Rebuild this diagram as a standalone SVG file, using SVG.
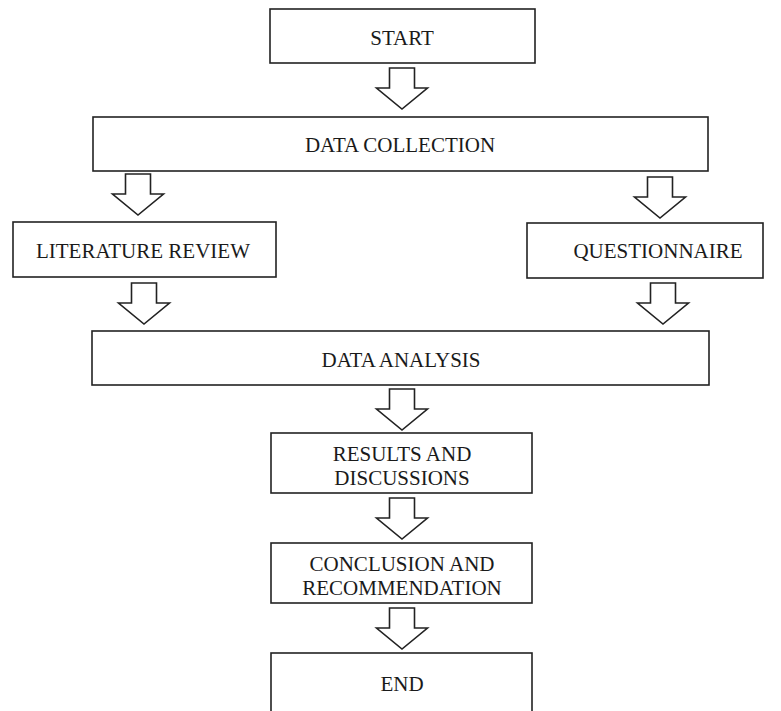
<svg xmlns="http://www.w3.org/2000/svg" xmlns:xlink="http://www.w3.org/1999/xlink" width="781" height="711" viewBox="0 0 781 711">
<style>
.box{fill:#fff;stroke:#222;stroke-width:1.6}
.arrow{fill:#fff;stroke:#222;stroke-width:1.6;stroke-linejoin:miter}
text{font-family:"Liberation Serif","Times New Roman",serif;font-size:21px;fill:#1a1a1a;text-anchor:middle}
</style>
<defs>
<path id="arr" d="M-12.5,0 H12.5 V20 H25.5 L0,41 L-25.5,20 H-12.5 Z"/>
</defs>
<rect width="781" height="711" fill="#fff"/>
<g id="connectors">
<use xlink:href="#arr" href="#arr" class="arrow" x="402" y="68"/>
<use xlink:href="#arr" href="#arr" class="arrow" x="138" y="174"/>
<use xlink:href="#arr" href="#arr" class="arrow" x="660" y="177"/>
<use xlink:href="#arr" href="#arr" class="arrow" x="144" y="283"/>
<use xlink:href="#arr" href="#arr" class="arrow" x="663" y="283"/>
<use xlink:href="#arr" href="#arr" class="arrow" x="402" y="389"/>
<use xlink:href="#arr" href="#arr" class="arrow" x="402" y="498"/>
<use xlink:href="#arr" href="#arr" class="arrow" x="402" y="608"/>
</g>
<g id="start">
<rect class="box" x="270" y="9" width="265" height="54"/>
<text x="402" y="45">START</text>
</g>
<g id="data-collection">
<rect class="box" x="93" y="117" width="615" height="54"/>
<text x="400" y="152">DATA COLLECTION</text>
</g>
<g id="literature-review">
<rect class="box" x="13" y="222" width="263" height="55"/>
<text x="143" y="258">LITERATURE REVIEW</text>
</g>
<g id="questionnaire">
<rect class="box" x="527" y="223" width="236" height="55"/>
<text x="658" y="258">QUESTIONNAIRE</text>
</g>
<g id="data-analysis">
<rect class="box" x="92" y="331" width="617" height="54"/>
<text x="401" y="367">DATA ANALYSIS</text>
</g>
<g id="results">
<rect class="box" x="271" y="433" width="261" height="60"/>
<text x="402" y="461">RESULTS AND</text>
<text x="402" y="485">DISCUSSIONS</text>
</g>
<g id="conclusion">
<rect class="box" x="271" y="543" width="261" height="60"/>
<text x="402" y="571">CONCLUSION AND</text>
<text x="402" y="595">RECOMMENDATION</text>
</g>
<g id="end">
<rect class="box" x="271" y="653" width="261" height="70"/>
<text x="402" y="691">END</text>
</g>
</svg>
